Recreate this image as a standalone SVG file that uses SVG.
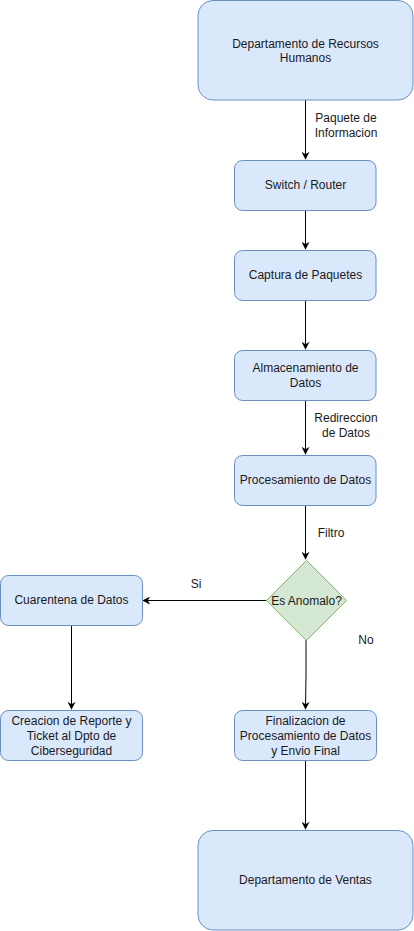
<svg xmlns="http://www.w3.org/2000/svg" width="414" height="931" viewBox="0 0 414 931">
<defs>
<style>
.box{fill:#dae8fc;stroke:#6c8ebf;stroke-width:1}
.dec{fill:#d5e8d4;stroke:#82b366;stroke-width:1}
.t{font-family:"Liberation Sans",Arial,sans-serif;font-size:12px;fill:#1a1a1a;text-anchor:middle}
.lbl{font-family:"Liberation Sans",Arial,sans-serif;font-size:12px;fill:#1a1a1a;text-anchor:middle}
.edge{fill:none;stroke:#000;stroke-width:1}
</style>
<marker id="arr" viewBox="0 0 10 10" refX="9" refY="5" markerWidth="8" markerHeight="8" markerUnits="userSpaceOnUse" orient="auto">
<path d="M0,0 L10,5 L0,10 L3,5 Z" fill="#000"/>
</marker>
</defs>
<rect width="414" height="931" fill="#fff"/>
<g id="connectors">
<path class="edge" d="M305.5,100 V159" marker-end="url(#arr)"/>
<path class="edge" d="M305.5,210 V249" marker-end="url(#arr)"/>
<path class="edge" d="M305.5,300 V349" marker-end="url(#arr)"/>
<path class="edge" d="M305.5,400 V454" marker-end="url(#arr)"/>
<path class="edge" d="M305.5,505 V559" marker-end="url(#arr)"/>
<path class="edge" d="M266.5,600.5 H143" marker-end="url(#arr)"/>
<path class="edge" d="M306,640 V675 L305.5,709" marker-end="url(#arr)"/>
<path class="edge" d="M71.5,625 V709" marker-end="url(#arr)"/>
<path class="edge" d="M305.5,760 V829" marker-end="url(#arr)"/>
<g id="edge-labels">
<rect x="314" y="108" width="64" height="30" fill="#fff"/>
<text class="lbl" x="346" y="122">Paquete de</text>
<text class="lbl" x="346" y="137">Informacion</text>
<rect x="314" y="408" width="66" height="30" fill="#fff"/>
<text class="lbl" x="346" y="422">Redireccion</text>
<text class="lbl" x="346" y="437">de Datos</text>
<text class="lbl" x="331" y="537">Filtro</text>
<text class="lbl" x="196" y="588">Si</text>
<text class="lbl" x="366" y="644">No</text>
</g>
</g>
<g id="rrhh">
<rect class="box" x="198" y="0.5" width="215" height="99.5" rx="15"/>
<text class="t" x="305.5" y="48">Departamento de Recursos</text>
<text class="t" x="305.5" y="62">Humanos</text>
</g>
<g id="switch">
<rect class="box" x="234.5" y="160.5" width="141.5" height="50" rx="8"/>
<text class="t" x="305.5" y="189">Switch / Router</text>
</g>
<g id="captura">
<rect class="box" x="234.5" y="250.5" width="141.5" height="50" rx="8"/>
<text class="t" x="305.5" y="279">Captura de Paquetes</text>
</g>
<g id="almacenamiento">
<rect class="box" x="234.5" y="350.5" width="141.5" height="50" rx="8"/>
<text class="t" x="305.5" y="372">Almacenamiento de</text>
<text class="t" x="305.5" y="387">Datos</text>
</g>
<g id="procesamiento">
<rect class="box" x="234.5" y="455.5" width="141.5" height="50" rx="8"/>
<text class="t" x="305.5" y="484">Procesamiento de Datos</text>
</g>
<g id="anomalo">
<polygon class="dec" points="306.5,560.5 346.5,600.5 306.5,640.5 266.5,600.5"/>
<text class="t" x="306.5" y="605">Es Anomalo?</text>
</g>
<g id="cuarentena">
<rect class="box" x="0.5" y="575.5" width="142" height="50" rx="8"/>
<text class="t" x="71.5" y="604">Cuarentena de Datos</text>
</g>
<g id="reporte">
<rect class="box" x="0.5" y="710.5" width="142" height="50" rx="8"/>
<text class="t" x="71.5" y="725">Creacion de Reporte y</text>
<text class="t" x="71.5" y="740">Ticket al Dpto de</text>
<text class="t" x="71.5" y="755">Ciberseguridad</text>
</g>
<g id="finalizacion">
<rect class="box" x="234.5" y="710.5" width="142" height="50" rx="8"/>
<text class="t" x="305.5" y="725">Finalizacion de</text>
<text class="t" x="305.5" y="740">Procesamiento de Datos</text>
<text class="t" x="305.5" y="755">y Envio Final</text>
</g>
<g id="ventas">
<rect class="box" x="198" y="830.5" width="215" height="99.5" rx="15"/>
<text class="t" x="305.5" y="884">Departamento de Ventas</text>
</g>
</svg>
